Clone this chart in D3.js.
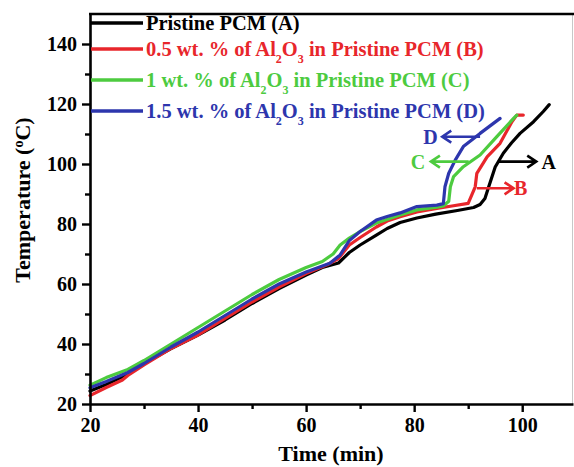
<!DOCTYPE html>
<html>
<head>
<meta charset="utf-8">
<script src="https://cdn.jsdelivr.net/npm/d3@7"></script>
<style>
  html, body { margin: 0; padding: 0; background: #fff; }
  svg { display: block; }
  text { font-family: "Liberation Serif", "Times New Roman", serif; font-weight: bold; }
</style>
</head>
<body>
<svg id="chart" width="574" height="467"></svg>
<script>
// Heating curves: time (min) vs temperature (°C)
const seriesA = [ // Pristine PCM
  [20, 24.3], [23, 26.5], [27, 30], [30, 33.5], [35, 38.5], [40, 43], [45, 48],
  [50, 53.5], [55, 58.5], [60, 63], [63, 65.5], [66, 67], [68, 70.5], [70, 73],
  [73, 76.3], [75, 78.5], [77.4, 80.5], [80.5, 82], [84, 83.3], [88, 84.5],
  [91, 85.5], [92.2, 86.5], [93.1, 88.5], [93.8, 92.4], [95, 99], [96.5, 103.6],
  [98, 107], [99.6, 110.2], [102.1, 114.1], [103.9, 117.5], [105, 119.8]
];
const seriesB = [ // 0.5 wt.% Al2O3
  [20, 22.8], [23, 25.5], [26, 28], [27, 29.5], [30, 33], [35, 38.5], [40, 43],
  [45, 48.5], [50, 54], [55, 59], [60, 63.5], [64, 66.5], [66, 68.5], [68, 73],
  [70, 75.5], [73, 79], [75, 81], [77.4, 82.4], [80.5, 84], [84.2, 85.2],
  [87, 86], [90, 86.9], [91.3, 92.4], [91.6, 96.9], [93.5, 102.4], [95.9, 106.9],
  [98.1, 114.1], [99, 116.3], [100.2, 116.3]
];
const seriesC = [ // 1 wt.% Al2O3
  [20, 26.3], [23, 28.8], [27, 31.5], [30, 34.5], [35, 40], [40, 45.5], [45, 51],
  [50, 56.5], [55, 61.5], [60, 65.5], [63, 67.5], [65, 70], [66.3, 73], [68, 75.3],
  [70, 77.5], [73, 80.3], [77.4, 83], [80.5, 84.7], [84.2, 85.6], [85.4, 86],
  [86.4, 87.6], [86.7, 92.4], [87.3, 95.8], [89.1, 99.1], [92.2, 103], [95.3, 109.1],
  [98.4, 115.2], [99, 116.3]
];
const seriesD = [ // 1.5 wt.% Al2O3
  [20, 25.4], [23, 27.5], [27, 30.5], [30, 33.5], [35, 39], [40, 44], [45, 49.5],
  [50, 55], [55, 60], [60, 64], [64.4, 66.9], [66.3, 69.7], [68, 74.5], [70, 77.5],
  [73, 81.3], [75, 82.5], [77.4, 83.7], [80.5, 85.8], [84.2, 86.3], [85.4, 86.8],
  [85.7, 92.4], [86.4, 96.9], [87.6, 101.3], [89.1, 105.8], [92.2, 110.2], [95.9, 115.2]
];

const seriesNames = ["A", "B", "C", "D"];
const seriesColors = ["#000000", "#e8262b", "#4dcb3f", "#2d36ad"];
const xTicks = [20, 40, 60, 80, 100];
const xMinor = [30, 50, 70, 90];
const yTicks = [20, 40, 60, 80, 100, 120, 140];
const yMinor = [30, 50, 70, 90, 110, 130];

// Annotation arrows in data units: [label, tail time, head time, temperature, label time]
const arrowNotes = [
  ["D", 92.2, 85.2, 109.1, 83.0],
  ["C", 90.1, 83.1, 100.8, 80.7],
  ["A", 95.6, 102.6, 100.8, 104.9],
  ["B", 91.6, 98.4, 91.9, 99.7]
];

const svg = d3.select("#chart");
const x = d3.scaleLinear().domain([20, 109.4]).range([90, 573]);
const y = d3.scaleLinear().domain([20, 150]).range([404, 14]);

// frame: thin right edge, heavy top
svg.append("line").attr("x1", 572.5).attr("x2", 572.5).attr("y1", 14).attr("y2", 404)
  .attr("stroke", "#c8c8c8").attr("stroke-width", 1);
svg.append("line").attr("x1", 89).attr("x2", 574).attr("y1", 14).attr("y2", 14)
  .attr("stroke", "#000").attr("stroke-width", 2.6);

// curves
const line = d3.line().x(d => x(d[0])).y(d => y(d[1]));
[seriesA, seriesB, seriesC, seriesD].forEach((s, i) => {
  svg.append("path").datum(s).attr("d", line)
    .attr("fill", "none").attr("stroke", seriesColors[i])
    .attr("stroke-width", 3.2).attr("stroke-linejoin", "round").attr("stroke-linecap", "round");
});

// axes
function styleAxis(g) {
  g.select(".domain").attr("stroke", "#000").attr("stroke-width", 2.6);
  g.selectAll(".tick line").attr("stroke", "#000").attr("stroke-width", 2.4);
  g.selectAll(".tick text").attr("fill", "#000").style("font-size", "20px")
    .style("font-family", "'Liberation Serif', serif").style("font-weight", "bold");
}
svg.append("g").attr("transform", "translate(0,404)")
  .call(d3.axisBottom(x).tickValues(xMinor).tickSize(5).tickFormat(""))
  .call(g => { styleAxis(g); g.select(".domain").remove(); });
svg.append("g").attr("transform", "translate(0,404)")
  .call(d3.axisBottom(x).tickValues(xTicks).tickSize(8).tickSizeOuter(0).tickPadding(6))
  .call(styleAxis);
svg.append("g").attr("transform", "translate(90,0)")
  .call(d3.axisLeft(y).tickValues(yMinor).tickSize(5).tickFormat(""))
  .call(g => { styleAxis(g); g.select(".domain").remove(); });
svg.append("g").attr("transform", "translate(90,0)")
  .call(d3.axisLeft(y).tickValues(yTicks).tickSize(8).tickSizeOuter(0).tickPadding(5))
  .call(styleAxis);

// axis titles
svg.append("text").attr("x", 331).attr("y", 461).attr("text-anchor", "middle")
  .style("font-size", "22px").text("Time (min)");
const yt = svg.append("text").attr("transform", "translate(30,200) rotate(-90)")
  .attr("text-anchor", "middle").style("font-size", "22px");
yt.append("tspan").text("Temperature (");
yt.append("tspan").attr("dy", -7).style("font-size", "14px").text("o");
yt.append("tspan").attr("dy", 7).text("C)");

// legend
const legendRows = [
  { y: 23, parts: [["Pristine PCM (A)", 0]] },
  { y: 49, parts: [["0.5 wt. % of Al", 0], ["2", 1], ["O", 0], ["3", 1], [" in Pristine PCM (B)", 0]] },
  { y: 80, parts: [["1 wt. % of Al", 0], ["2", 1], ["O", 0], ["3", 1], [" in Pristine PCM (C)", 0]] },
  { y: 111, parts: [["1.5 wt. % of Al", 0], ["2", 1], ["O", 0], ["3", 1], [" in Pristine PCM (D)", 0]] }
];
legendRows.forEach((row, i) => {
  svg.append("line").attr("x1", 91).attr("x2", 143).attr("y1", row.y).attr("y2", row.y)
    .attr("stroke", seriesColors[i]).attr("stroke-width", 3.4);
  const t = svg.append("text").attr("x", 146).attr("y", row.y + 7)
    .attr("fill", seriesColors[i]).style("font-size", "20.5px");
  let shifted = false;
  row.parts.forEach(([str, sub]) => {
    const ts = t.append("tspan").text(str);
    if (sub) {
      ts.attr("dy", 7).style("font-size", "12px");
      shifted = true;
    } else if (shifted) {
      ts.attr("dy", -7);
      shifted = false;
    }
  });
});

// arrows with labels
arrowNotes.forEach(([lab, t0, t1, temp, tl]) => {
  const col = seriesColors[seriesNames.indexOf(lab)];
  const x0 = x(t0), x1 = x(t1), yy = y(temp);
  const dir = Math.sign(x1 - x0);
  svg.append("path")
    .attr("d", `M${x0},${yy}L${x1},${yy}M${x1 - dir * 9},${yy - 6}L${x1},${yy}L${x1 - dir * 9},${yy + 6}`)
    .attr("fill", "none").attr("stroke", col).attr("stroke-width", 2.6)
    .attr("stroke-linejoin", "miter").attr("stroke-linecap", "butt");
  svg.append("text").attr("x", x(tl)).attr("y", yy + 7).attr("text-anchor", "middle")
    .attr("fill", col).style("font-size", "20px").text(lab);
});
</script>
</body>
</html>
